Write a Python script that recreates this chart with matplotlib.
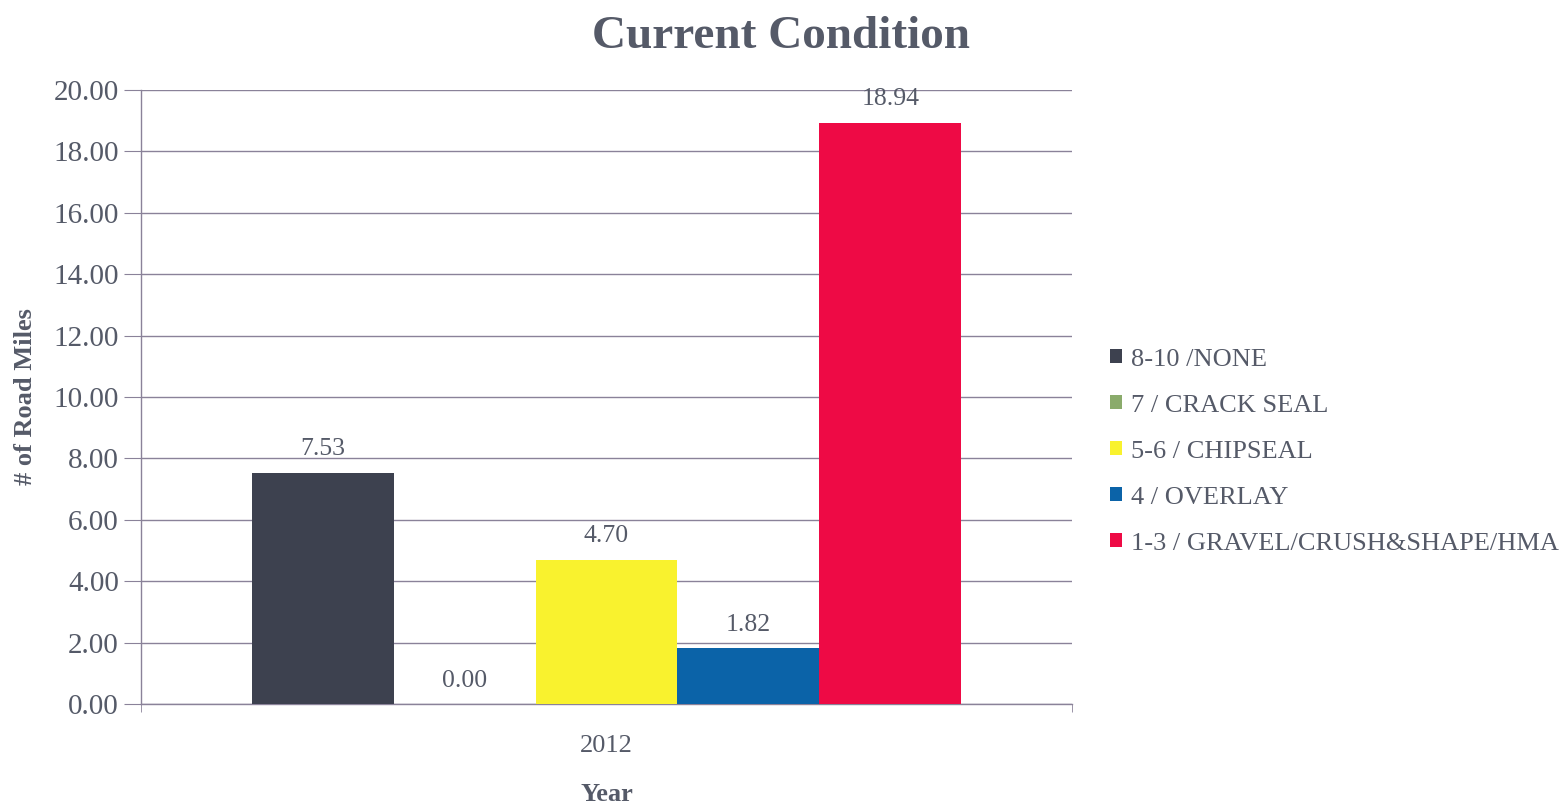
import matplotlib.pyplot as plt
import numpy as np

# --- data ---
categories = ["8-10 /NONE", "7 / CRACK SEAL", "5-6 / CHIPSEAL", "4 / OVERLAY",
              "1-3 / GRAVEL/CRUSH&SHAPE/HMA"]
miles_2012 = [7.53, 0.00, 4.70, 1.82, 18.94]
year_labels = ["2012"]
colors = ["#3d414f", "#8aab6b", "#f9f22e", "#0b63a8", "#ee0a45"]

TXT = "#555a68"
GRID = "#8a8299"
plt.rcParams['font.family'] = ['Liberation Serif', 'DejaVu Serif']

fig = plt.figure(figsize=(15.66, 8.05), dpi=100)
ax = fig.add_axes([141 / 1566, 1 - 704 / 805, 931 / 1566, 614 / 805])

w = 0.1525
n = len(categories)
for i, (lab, v, c) in enumerate(zip(categories, miles_2012, colors)):
    x = (i - (n - 1) / 2) * w
    ax.bar(x, v, width=w, color=c, label=lab, zorder=3)
    ax.annotate(f"{v:.2f}", (x, v), xytext=(0, 9), textcoords="offset points",
                ha="center", va="bottom", fontsize=18.5, color=TXT)

yt = np.arange(0, 20.1, 2)
ax.set_xlim(-0.5, 0.5)
ax.set_ylim(0, 20)
ax.set_yticks(yt)
ax.set_yticklabels([f"{t:.2f}" for t in yt], fontsize=21, color=TXT)
ax.set_xticks([0])
ax.set_xticklabels(year_labels, fontsize=19, color=TXT)
ax.tick_params(axis="x", which="major", length=0, pad=22)
ax.set_xticks([-0.5, 0.5], minor=True)
ax.tick_params(axis="x", which="minor", length=6, color=GRID)
ax.tick_params(axis="y", length=12, color=GRID, pad=4)

ax.grid(axis="y", color=GRID, linewidth=1.0, zorder=0)
for s in ["top", "right"]:
    ax.spines[s].set_visible(False)
for s in ["left", "bottom"]:
    ax.spines[s].set_color(GRID)
    ax.spines[s].set_linewidth(1.0)

ax.set_ylabel("# of Road Miles", fontsize=19, fontweight="bold", color=TXT, labelpad=12)
ax.set_xlabel("Year", fontsize=19, fontweight="bold", color=TXT, labelpad=19)

fig.suptitle("Current Condition", x=781 / 1566, y=1 - 16 / 805, fontsize=34,
             fontweight="bold", color=TXT, va="top")

leg = ax.legend(loc="center left", bbox_to_anchor=(1.027, 0.411), frameon=False,
                fontsize=19, handlelength=0.45, handleheight=0.45, handletextpad=0.35,
                labelspacing=0.91, borderpad=0)
for t in leg.get_texts():
    t.set_color(TXT)

fig.savefig("out.png", dpi=100)
